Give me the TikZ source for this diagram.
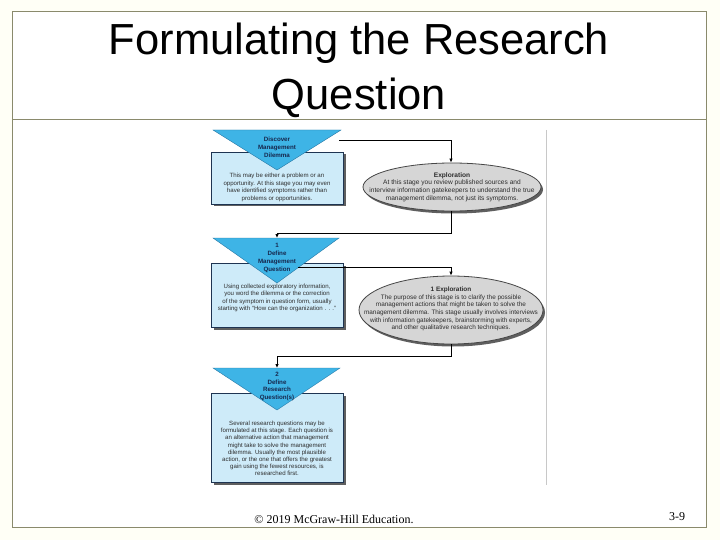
\documentclass[tikz,border=0pt]{standalone}
\usepackage{fontspec}
\setmainfont{Liberation Sans}
\newfontfamily\footserif{Liberation Serif}
\usetikzlibrary{arrows.meta,calc,shadows,shapes.geometric}
\definecolor{bgcream}{RGB}{255,255,246}
\definecolor{framecol}{RGB}{138,138,108}
\definecolor{tricyan}{RGB}{62,180,230}
\definecolor{tridark}{RGB}{40,120,165}
\definecolor{boxfill}{RGB}{206,235,249}
\definecolor{boxline}{RGB}{30,52,82}
\definecolor{shadowgray}{RGB}{95,95,95}
\definecolor{ellfill}{RGB}{214,214,214}
\definecolor{ellline}{RGB}{70,70,70}
\definecolor{labnavy}{RGB}{22,40,78}
\definecolor{bodytext}{RGB}{45,45,45}
\definecolor{sepgray}{RGB}{200,200,200}
\tikzset{
  frameline/.style={draw=framecol, line width=1pt},
  boxst/.style={rectangle, draw=boxline, fill=boxfill, line width=0.9pt, inner sep=0pt,
    drop shadow={shadow xshift=2.5pt, shadow yshift=-2.5pt, fill=shadowgray, opacity=1}},
  ellst/.style={ellipse, draw=ellline, fill=ellfill, line width=0.8pt, inner sep=0pt,
    drop shadow={shadow xshift=2pt, shadow yshift=-2.5pt, fill=shadowgray, opacity=1}},
  trist/.style={fill=tricyan, draw=tridark, line width=0.4pt},
  trilab/.style={font=\bfseries\fontsize{6.2}{8}\selectfont, text=labnavy, align=center, inner sep=0pt},
  bodytxt/.style={font=\fontsize{6.1}{7.4}\selectfont, text=bodytext, align=center, inner sep=0pt},
  elltxt/.style={font=\fontsize{6.6}{7.6}\selectfont, text=bodytext, align=center, inner sep=0pt},
  conn/.style={draw=black, line width=0.8pt, -{Latex[length=4pt,width=3.5pt]}},
  titletxt/.style={font=\fontsize{43.5}{55}\selectfont, inner sep=0pt, anchor=base},
  foottxt/.style={font=\footserif\fontsize{12}{14}\selectfont, inner sep=0pt, anchor=base}
}
\begin{document}
\begin{tikzpicture}[x=1pt,y=-1pt]
\useasboundingbox (0,0) rectangle (720,540);
\fill[bgcream] (0,0) rectangle (720,540);
\fill[white] (12,12) rectangle (706,527);
\draw[frameline] (12,12) rectangle (706,527);
\draw[frameline] (12,120) -- (706,120);

% title
\node[titletxt] (title1) at (359,55) {Formulating the Research};
\node[titletxt] (title2) at (359,110) {Question};

% separator line on the right of the figure
\draw[draw=sepgray, line width=0.8pt] (546,130) -- (546,485);

% ---- stage 1
\node[boxst, minimum width=132pt, minimum height=52pt] (box1) at (277,178) {};
\path[trist] (213,130) coordinate (t1l) -- (341,130) coordinate (t1r) -- (277,170) coordinate (t1a) -- cycle;
\coordinate (t1top) at (277,130);
\node[trilab] (lab1) at (277,147) {Discover\\Management\\Dilemma};
\node[bodytxt] (txt1) at (277,187.5) {This may be either a problem or an\\opportunity.  At this stage you may even\\have identified symptoms rather than\\problems or opportunities.};

\node[ellst, minimum width=178pt, minimum height=48pt] (e1) at (452,187) {};
\node[elltxt] (etxt1) at (452,187) {\textbf{Exploration}\\At this stage you review published sources and\\interview information gatekeepers to understand the true\\management dilemma, not just its symptoms.};

% ---- stage 2
\node[boxst, minimum width=132pt, minimum height=64pt] (box2) at (277,295) {};
\path[trist] (213,238) coordinate (t2l) -- (339,238) coordinate (t2r) -- (277,283) coordinate (t2a) -- cycle;
\coordinate (t2top) at (277,238);
\node[trilab, font=\bfseries\fontsize{6.2}{7.8}\selectfont] (lab2) at (277,258) {1\\Define\\Management\\Question};
\node[bodytxt] (txt2) at (277,298) {Using collected exploratory information,\\you word the dilemma or the correction\\of the symptom in question form, usually\\starting with “How can the organization . . .”};

\node[ellst, minimum width=184pt, minimum height=68pt] (e2) at (451,310) {};
\node[elltxt, font=\fontsize{6.4}{7.6}\selectfont] (etxt2) at (451,309) {\textbf{1 Exploration}\\The purpose of this stage is to clarify the possible\\management actions that might be taken to solve the\\management dilemma.  This stage usually involves interviews\\with information gatekeepers, brainstorming with experts,\\and other qualitative research techniques.};

% ---- stage 3
\node[boxst, minimum width=132pt, minimum height=89pt] (box3) at (277,437.5) {};
\path[trist] (213,368) coordinate (t3l) -- (340,368) coordinate (t3r) -- (277,410) coordinate (t3a) -- cycle;
\coordinate (t3top) at (277,368);
\node[trilab, font=\bfseries\fontsize{6.2}{7.7}\selectfont] (lab3) at (277,386.5) {2\\Define\\Research\\Question(s)};
\node[bodytxt, font=\fontsize{6.1}{7.2}\selectfont] (txt3) at (277,448.5) {Several research questions may be\\formulated at this stage.  Each question is\\an alternative action that management\\might take to solve the management\\dilemma.  Usually the most plausible\\action, or the one that offers the greatest\\gain using the fewest resources, is\\researched first.};

% ---- connectors
\coordinate (c1) at (339,140);
\coordinate (k1) at (451,233);
\coordinate (c2) at ($(t2r)!0.66!(t2a)$);
\coordinate (k2) at (451,356);
\draw[conn] (c1) -| (e1.north -| k1);
\draw[conn] (e1.south -| k1) -- (k1) -| (t2top);
\draw[conn] (c2) -| (e2.north);
\draw[conn] (e2.south) -- (k2) -| (t3top);

% footer
\node[foottxt] (copy) at (334,523) {© 2019 McGraw-Hill Education.};
\node[foottxt] (pg) at (677,520) {3-9};
\end{tikzpicture}
\end{document}
